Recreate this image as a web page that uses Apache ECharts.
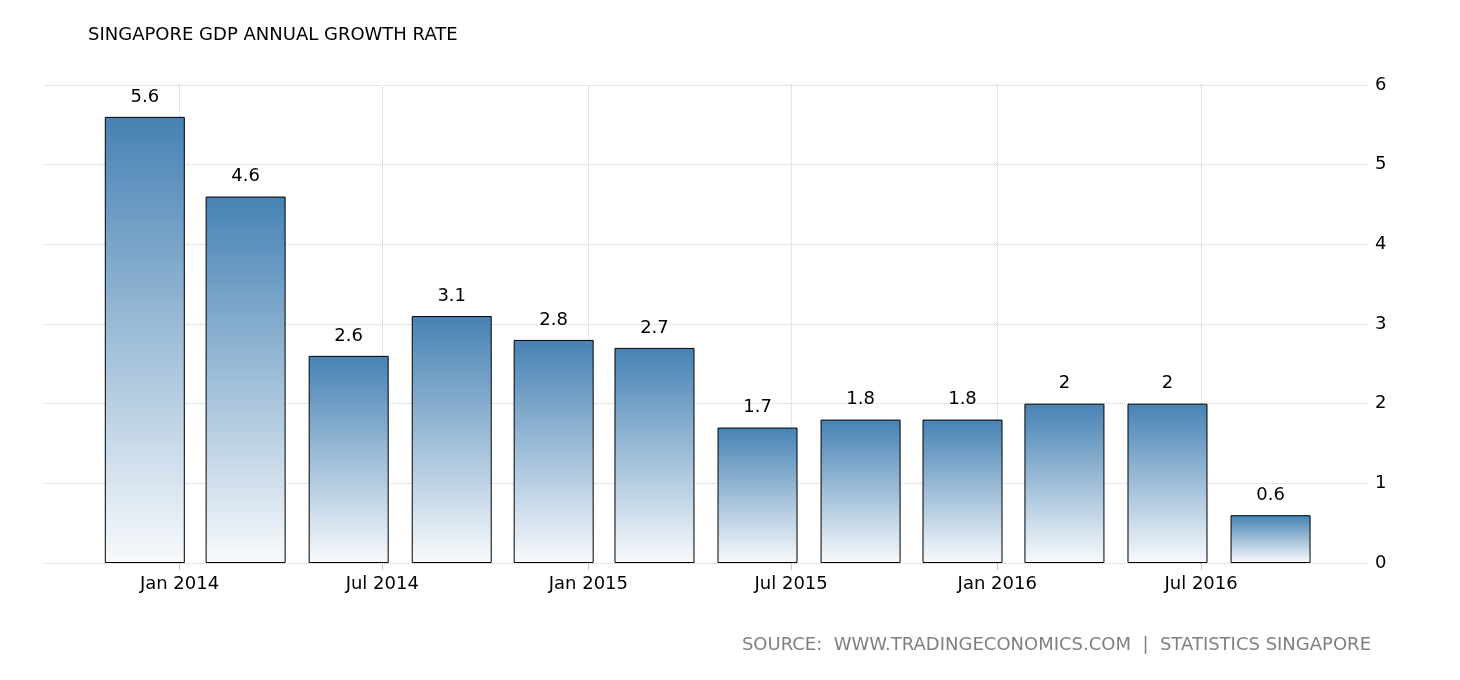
<!DOCTYPE html>
<html>
<head>
<meta charset="utf-8">
<script src="https://cdn.jsdelivr.net/npm/echarts@6/dist/echarts.min.js"></script>
<style>
  html, body { margin: 0; padding: 0; background: #fff; }
  #main { width: 1460px; height: 680px; }
</style>
</head>
<body>
<div id="main"></div>
<script>
// quarterly readings, plotted on the first day of the quarter's last month
const quarters = ['2013-12-01', '2014-03-01', '2014-06-01', '2014-09-01', '2014-12-01', '2015-03-01',
  '2015-06-01', '2015-09-01', '2015-12-01', '2016-03-01', '2016-06-01', '2016-09-01'];
const growth = [5.6, 4.6, 2.6, 3.1, 2.8, 2.7, 1.7, 1.8, 1.8, 2, 2, 0.6];
const tickDates = ['2014-01-01', '2014-07-01', '2015-01-01', '2015-07-01', '2016-01-01', '2016-07-01'];
const monthNames = ['Jan', 'Feb', 'Mar', 'Apr', 'May', 'Jun', 'Jul', 'Aug', 'Sep', 'Oct', 'Nov', 'Dec'];

const toTs = s => Date.parse(s + 'T00:00:00Z');
const tickTs = tickDates.map(toTs);
const fontFam = 'DejaVu Sans';

const chart = echarts.init(document.getElementById('main'));
const option = {
  animation: false,
  textStyle: { fontFamily: fontFam },
  title: [
    {
      text: 'SINGAPORE GDP ANNUAL GROWTH RATE',
      left: 83, top: 21,
      textStyle: { fontSize: 18, fontWeight: 'normal', color: '#000', fontFamily: fontFam }
    },
    {
      text: 'SOURCE:  WWW.TRADINGECONOMICS.COM  |  STATISTICS SINGAPORE',
      right: 84, top: 631,
      textStyle: { fontSize: 18, fontWeight: 'normal', color: '#808080', fontFamily: fontFam }
    }
  ],
  grid: { left: 44, right: 92, top: 85, bottom: 117, containLabel: false },
  xAxis: {
    type: 'value',
    min: toTs('2013-09-02'),
    max: toTs('2016-11-27'),
    axisLine: { show: false },
    axisTick: { show: true, length: 7, lineStyle: { color: '#c8c8c8' }, customValues: tickTs },
    axisLabel: {
      customValues: tickTs,
      margin: 12,
      fontSize: 18,
      color: '#000',
      formatter: v => {
        const d = new Date(v);
        return monthNames[d.getUTCMonth()] + ' ' + d.getUTCFullYear();
      }
    },
    splitLine: { show: true, lineStyle: { color: '#cccccc', type: 'dotted' } }
  },
  yAxis: {
    type: 'value',
    position: 'right',
    min: 0, max: 6, interval: 1,
    axisLine: { show: false },
    axisTick: { show: false },
    axisLabel: { margin: 7, fontSize: 18, color: '#000' },
    splitLine: { lineStyle: { color: '#cccccc', type: 'dotted' } }
  },
  series: [
    {
      type: 'bar',
      barWidth: 80,
      data: quarters.map((q, i) => [toTs(q), growth[i]]),
      itemStyle: {
        borderColor: '#000',
        borderWidth: 1,
        color: new echarts.graphic.LinearGradient(0, 0, 0, 1, [
          { offset: 0, color: '#4682b4' },
          { offset: 1, color: '#f8fafc' }
        ])
      },
      label: {
        show: true,
        position: 'top',
        distance: 11,
        fontSize: 18,
        color: '#000',
        formatter: p => p.value[1]
      }
    }
  ]
};
chart.setOption(option);
</script>
</body>
</html>
